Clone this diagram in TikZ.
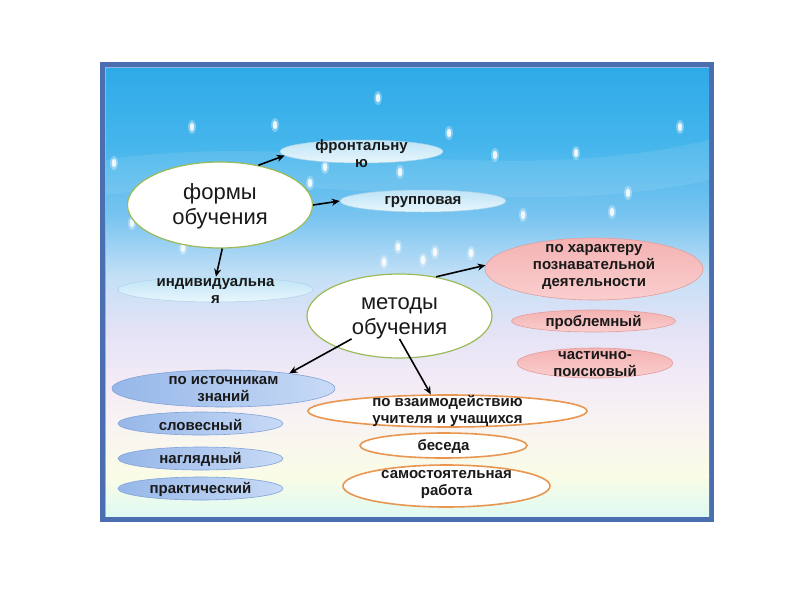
\documentclass[tikz,border=0pt]{standalone}
\usepackage{fontspec}
\setmainfont{Liberation Sans}
\usetikzlibrary{arrows.meta,shapes.geometric}
\definecolor{framebd}{RGB}{74,110,176}
\definecolor{frameln}{RGB}{150,180,225}
\definecolor{s0}{RGB}{222,250,242}
\definecolor{s1}{RGB}{250,252,230}
\definecolor{s2}{RGB}{248,244,242}
\definecolor{s3}{RGB}{242,234,246}
\definecolor{s4}{RGB}{226,226,246}
\definecolor{s5}{RGB}{196,224,246}
\definecolor{s6}{RGB}{120,196,240}
\definecolor{s7}{RGB}{70,182,236}
\definecolor{s8}{RGB}{46,170,232}
\definecolor{txt}{RGB}{25,25,25}
\definecolor{grn}{RGB}{155,187,89}
\definecolor{org}{RGB}{232,150,80}
\definecolor{lbA}{RGB}{190,228,246}
\definecolor{lbB}{RGB}{232,246,252}
\definecolor{lbD}{RGB}{170,212,236}
\definecolor{pkA}{RGB}{244,178,178}
\definecolor{pkB}{RGB}{250,206,206}
\definecolor{pkD}{RGB}{228,156,156}
\definecolor{blA}{RGB}{150,183,232}
\definecolor{blB}{RGB}{200,218,246}
\definecolor{blD}{RGB}{128,162,218}
\tikzset{
  ell/.style={ellipse, inner sep=0pt},
  lblue/.style={ell, top color=lbA, bottom color=lbB, draw=lbD, line width=0.5pt},
  pink/.style={ell, top color=pkA, bottom color=pkB, draw=pkD, line width=0.6pt},
  dblue/.style={ell, left color=blA, right color=blB, draw=blD, line width=0.6pt},
  wgrn/.style={ell, fill=white, draw=grn, line width=1.2pt},
  worg/.style={ell, fill=white, draw=org, line width=1.6pt},
  txtS/.style={inner sep=0pt, align=center, text=txt, font=\fontsize{15}{17}\selectfont\bfseries},
  txtL/.style={inner sep=0pt, align=center, text=txt, font=\fontsize{22}{25}\selectfont},
  arr/.style={-{Stealth[length=8pt,width=7pt]}, line width=1.6pt, black},
  snow/.style={white, opacity=0.85},
  glow/.style={white, opacity=0.3}
}
\begin{document}
\begin{tikzpicture}[x=1pt,y=-1pt]
\fill[white] (0,0) rectangle (800,600);
\useasboundingbox (0,0) rectangle (800,600);
% frame
\fill[framebd] (100,62) rectangle (714,522);
\fill[frameln] (105,67) rectangle (709,517);
% sky bands
\shade[top color=s8, bottom color=s7] (106,68) rectangle (709,146.5);
\shade[top color=s7, bottom color=s6] (106,146) rectangle (709,216.5);
\shade[top color=s6, bottom color=s5] (106,216) rectangle (709,276.5);
\shade[top color=s5, bottom color=s4] (106,276) rectangle (709,326.5);
\shade[top color=s4, bottom color=s3] (106,326) rectangle (709,376.5);
\shade[top color=s3, bottom color=s2] (106,376) rectangle (709,426.5);
\shade[top color=s2, bottom color=s1] (106,426) rectangle (709,476.5);
\shade[top color=s1, bottom color=s0] (106,476) rectangle (709,516);
% light wave band
\fill[white, opacity=0.09] (106,160) .. controls (300,130) and (500,190) .. (709,140) -- (709,180) .. controls (500,225) and (300,165) .. (106,195) -- cycle;
% snow
\foreach \x/\y in {378/98,192/127,275/125,449/133,680/127,495/155,576/153,114/163,325/167,400/172,310/183,628/193,612/212,523/215,132/223,183/248,398/247,435/252,471/253,384/262,423/260}{
  \fill[glow] (\x,\y) ellipse [x radius=4, y radius=7];
  \fill[snow] (\x,\y) ellipse [x radius=2.3, y radius=4.3];
}
% ellipses
\node[wgrn, minimum width=185pt, minimum height=86pt] (formy) at (220,205) {};
\node[wgrn, minimum width=185pt, minimum height=84pt] (metody) at (399.5,316) {};
\node[lblue, minimum width=163pt, minimum height=23pt] (front) at (361.5,151.5) {};
\node[lblue, minimum width=166pt, minimum height=22pt] (grp) at (423,201) {};
\node[lblue, minimum width=195pt, minimum height=25pt] (indiv) at (215.5,289.5) {};
\node[pink, minimum width=218pt, minimum height=62pt] (har) at (594,269) {};
\node[pink, minimum width=164pt, minimum height=22pt] (probl) at (593.5,321) {};
\node[pink, minimum width=156pt, minimum height=30pt] (chast) at (595,363) {};
\node[dblue, minimum width=223pt, minimum height=37pt] (isto) at (223.5,388.5) {};
\node[dblue, minimum width=165pt, minimum height=23pt] (slov) at (200.5,423.5) {};
\node[dblue, minimum width=165pt, minimum height=23pt] (nagl) at (200.5,458.5) {};
\node[dblue, minimum width=165pt, minimum height=23pt] (prakt) at (200.5,488.5) {};
\node[worg, minimum width=279pt, minimum height=32pt] (vz) at (447.5,411) {};
\node[worg, minimum width=167pt, minimum height=25pt] (bes) at (443.5,445.5) {};
\node[worg, minimum width=207pt, minimum height=42pt] (sam) at (446.5,486) {};
% texts
\node[txtL] (formyT) at (220,206) {формы\\обучения};
\node[txtL] (metodyT) at (399.5,318) {методы\\обучения};
\node[txtS] (frontT) at (361.5,154) {фронтальну\\ю};
\node[txtS] (grpT) at (423,202) {групповая};
\node[txtS] (indivT) at (215.5,291) {индивидуальна\\я};
\node[txtS] (harT) at (594,267) {по характеру\\познавательной\\деятельности};
\node[txtS] (problT) at (593.5,322) {проблемный};
\node[txtS] (chastT) at (595,364) {частично-\\поисковый};
\node[txtS] (istoT) at (223.5,389) {по источникам\\знаний};
\node[txtS] (slovT) at (200.5,424.5) {словесный};
\node[txtS] (naglT) at (200.5,459.5) {наглядный};
\node[txtS] (praktT) at (200.5,489.5) {практический};
\node[txtS] (vzT) at (447.5,411) {по взаимодействию\\учителя и учащихся};
\node[txtS] (besT) at (443.5,446.5) {беседа};
\node[txtS] (samT) at (446.5,485) {самостоятельная\\работа};
% arrows
\draw[arr] (formy.46) -- (front.183);
\draw[arr] (formy.0) -- (grp.west);
\draw[arr] (formy.-87) -- (indiv.88);
\draw[arr] (metody.47.5) -- (har.178);
\draw[arr] (metodyT.south west) -- (isto.13);
\draw[arr] (metodyT.south) -- (vz.135);
\end{tikzpicture}
\end{document}
